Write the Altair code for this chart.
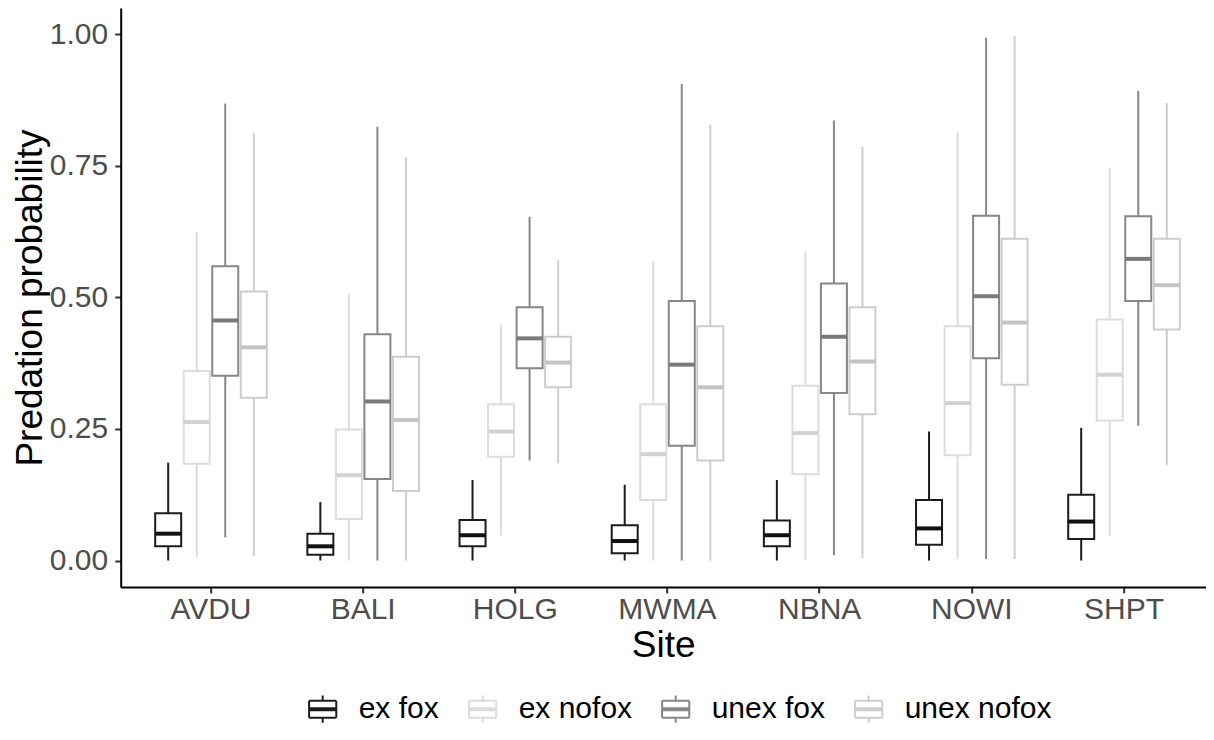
import altair as alt
import pandas as pd

sites = ["AVDU", "BALI", "HOLG", "MWMA", "NBNA", "NOWI", "SHPT"]
groups = ["ex fox", "ex nofox", "unex fox", "unex nofox"]

# values per site (order of `sites`)
ex_fox_lower = [0.000, 0.000, 0.000, 0.000, 0.000, 0.000, 0.000]
ex_fox_q1 = [0.027, 0.011, 0.027, 0.014, 0.027, 0.030, 0.041]
ex_fox_median = [0.051, 0.027, 0.048, 0.037, 0.048, 0.061, 0.074]
ex_fox_q3 = [0.090, 0.051, 0.077, 0.067, 0.076, 0.115, 0.125]
ex_fox_upper = [0.186, 0.111, 0.153, 0.144, 0.153, 0.245, 0.252]

ex_nofox_lower = [0.007, 0.000, 0.048, 0.000, 0.002, 0.003, 0.046]
ex_nofox_q1 = [0.184, 0.079, 0.197, 0.115, 0.164, 0.200, 0.266]
ex_nofox_median = [0.263, 0.162, 0.245, 0.202, 0.242, 0.299, 0.353]
ex_nofox_q3 = [0.360, 0.249, 0.297, 0.297, 0.332, 0.445, 0.458]
ex_nofox_upper = [0.624, 0.505, 0.448, 0.569, 0.587, 0.815, 0.745]

unex_fox_lower = [0.044, 0.000, 0.190, 0.000, 0.010, 0.003, 0.256]
unex_fox_q1 = [0.351, 0.155, 0.365, 0.218, 0.318, 0.384, 0.493]
unex_fox_median = [0.456, 0.302, 0.422, 0.372, 0.425, 0.502, 0.573]
unex_fox_q3 = [0.559, 0.430, 0.481, 0.493, 0.526, 0.655, 0.654]
unex_fox_upper = [0.868, 0.824, 0.653, 0.905, 0.836, 0.993, 0.892]

unex_nofox_lower = [0.008, 0.000, 0.185, 0.000, 0.005, 0.003, 0.181]
unex_nofox_q1 = [0.309, 0.132, 0.329, 0.190, 0.278, 0.334, 0.439]
unex_nofox_median = [0.405, 0.267, 0.376, 0.329, 0.378, 0.452, 0.523]
unex_nofox_q3 = [0.511, 0.387, 0.425, 0.445, 0.481, 0.611, 0.611]
unex_nofox_upper = [0.812, 0.766, 0.570, 0.828, 0.786, 0.996, 0.869]

box_colors = ["#1c1c1c", "#dcdcdc", "#878787", "#cdcdcd"]
median_colors = ["#111111", "#d2d2d2", "#7a7a7a", "#c4c4c4"]
y_ticks = [0.0, 0.25, 0.5, 0.75, 1.0]

stats = {
    "ex fox": (ex_fox_lower, ex_fox_q1, ex_fox_median, ex_fox_q3, ex_fox_upper),
    "ex nofox": (ex_nofox_lower, ex_nofox_q1, ex_nofox_median, ex_nofox_q3, ex_nofox_upper),
    "unex fox": (unex_fox_lower, unex_fox_q1, unex_fox_median, unex_fox_q3, unex_fox_upper),
    "unex nofox": (unex_nofox_lower, unex_nofox_q1, unex_nofox_median, unex_nofox_q3, unex_nofox_upper),
}
rows = []
for g in groups:
    lo, a, m, b, hi = stats[g]
    for i, s in enumerate(sites):
        rows.append({"site": s, "group": g, "lower": lo[i], "q1": a[i],
                     "median": m[i], "q3": b[i], "upper": hi[i]})
df = pd.DataFrame(rows)

FONT = "Liberation Sans"
W, H = 1085, 579

xscale = alt.Scale(paddingInner=0, paddingOuter=0.0651, align=0.717)
offscale = alt.Scale(paddingInner=0, paddingOuter=0.6667)
yscale = alt.Scale(domain=[-0.0503, 1.0495], nice=False, zero=False)
sscale = alt.Scale(domain=groups, range=box_colors)
mscale = alt.Scale(domain=groups, range=median_colors)

x_enc = alt.X("site:N", sort=sites, scale=xscale, title="Site",
              axis=alt.Axis(labelFont=FONT, labelFontSize=30, labelColor="#4d4d4d",
                            labelAngle=0, labelPadding=2, tickSize=6, tickWidth=2,
                            tickColor="#333333", domainColor="#000000", domainWidth=2,
                            titleFont=FONT, titleFontSize=37, titleColor="#000000",
                            titleFontWeight="normal", titleY=41, titleBaseline="top",
                            grid=False))
off_enc = alt.XOffset("group:N", sort=groups, scale=offscale)

y_axis = alt.Axis(values=y_ticks, format=".2f", labelFont=FONT, labelFontSize=30,
                  labelColor="#4d4d4d", labelPadding=7, tickSize=6, tickWidth=2,
                  tickColor="#333333", domainColor="#000000", domainWidth=2,
                  titleFont=FONT, titleFontSize=37, titleColor="#000000",
                  titleFontWeight="normal", titleX=-71, titleY=H / 2,
                  titleAngle=-90, titleBaseline="bottom", titleAlign="center", grid=False)

# boxplot legend key: box outline, whiskers as separate segments (nothing to fill),
# plus a thin closed strip for the thick median line
key_path = ("M-0.8,-0.5H0.8 M0.8,-0.5V0.5 M0.8,0.5H-0.8 M-0.8,0.5V-0.5 "
            "M0,-0.5V-0.8 M0,0.5V0.8 M-0.8,-0.06H0.8V0.06H-0.8Z")
legend = alt.Legend(orient="none", legendX=184, legendY=683, direction="horizontal",
                    title=None, symbolType=key_path, symbolSize=34 * 34,
                    symbolStrokeWidth=2, labelFont=FONT,
                    labelFontSize=30, labelColor="#000000", labelOffset=18,
                    columnPadding=25, padding=0, symbolOpacity=1)

base = alt.Chart(df).encode(x=x_enc, xOffset=off_enc)

box = base.mark_bar(fill="white", strokeWidth=2, size=26, opacity=1).encode(
    y=alt.Y("q1:Q", scale=yscale, axis=y_axis, title="Predation probability"),
    y2="q3:Q",
    stroke=alt.Stroke("group:N", scale=sscale, legend=legend),
)
whisk_lo = base.mark_rule(strokeWidth=2).encode(
    y="lower:Q", y2="q1:Q",
    stroke=alt.Stroke("group:N", scale=sscale, legend=legend),
)
whisk_hi = base.mark_rule(strokeWidth=2).encode(
    y="q3:Q", y2="upper:Q",
    stroke=alt.Stroke("group:N", scale=sscale, legend=legend),
)
med = base.mark_tick(thickness=4, size=26, opacity=1).encode(
    y="median:Q",
    color=alt.Color("group:N", scale=mscale, legend=None),
)

chart = alt.layer(box, whisk_lo, whisk_hi, med).properties(
    width=W, height=H,
    autosize=alt.AutoSizeParams(type="none"),
    padding={"left": 112.7, "top": 0, "right": 0, "bottom": 139},
).configure(background="white").configure_view(stroke=None)

chart.save("out.html", embed_options={"renderer": "svg", "actions": False})
